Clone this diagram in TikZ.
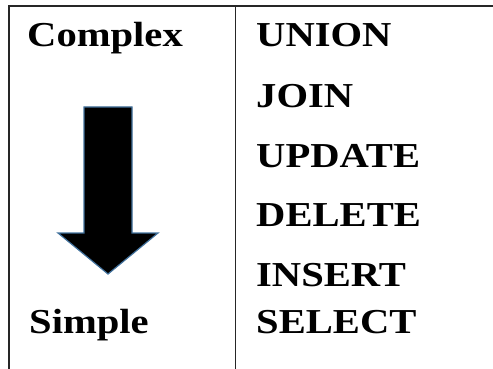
\documentclass[tikz,border=0pt]{standalone}
\usepackage{fontspec}
\setmainfont{Liberation Serif}[FakeStretch=1.16]
\usetikzlibrary{positioning}
\definecolor{arrowedge}{HTML}{41719C}
\tikzset{
  rule/.style  = {draw=black!85, line width=1.5pt},
  lbl/.style   = {anchor=base west, inner sep=0pt, font=\fontsize{35}{37}\selectfont\bfseries},
  bigarrow/.style = {fill=black, draw=arrowedge, line width=1.2pt, line join=miter},
}

\begin{document}
\begin{tikzpicture}[x=1pt, y=-1pt]
    \useasboundingbox (0,0) rectangle (493,369);
    % table rules
    \coordinate (tl) at (9,6);
    \coordinate (tr) at (493,6);
    \coordinate (bl) at (9,369);
    \coordinate (mt) at (235.5,6);
    \coordinate (mb) at (235.5,369);
    \draw[rule] (bl) -- (tl) -- (tr);
    \draw[rule] (mt) -- (mb);

    % left column
    \node[lbl] (complex) at (27,47) {Complex};
    \node[lbl] (simple) at (29,333) {Simple};
    \draw[bigarrow] (84,107) -- (132,107) -- (132,233) -- (158,233)
      -- (108,274) -- (58,233) -- (84,233) -- cycle;

    % right column
    \node[lbl] (union)  at (256,47)  {UNION};
    \node[lbl] (join)   at (256,107) {JOIN};
    \node[lbl] (update) at (256,167) {UPDATE};
    \node[lbl] (delete) at (256,226) {DELETE};
    \node[lbl] (insert) at (256,286) {INSERT};
    \node[lbl] (select) at (256,333) {SELECT};
  \end{tikzpicture}
\end{document}
